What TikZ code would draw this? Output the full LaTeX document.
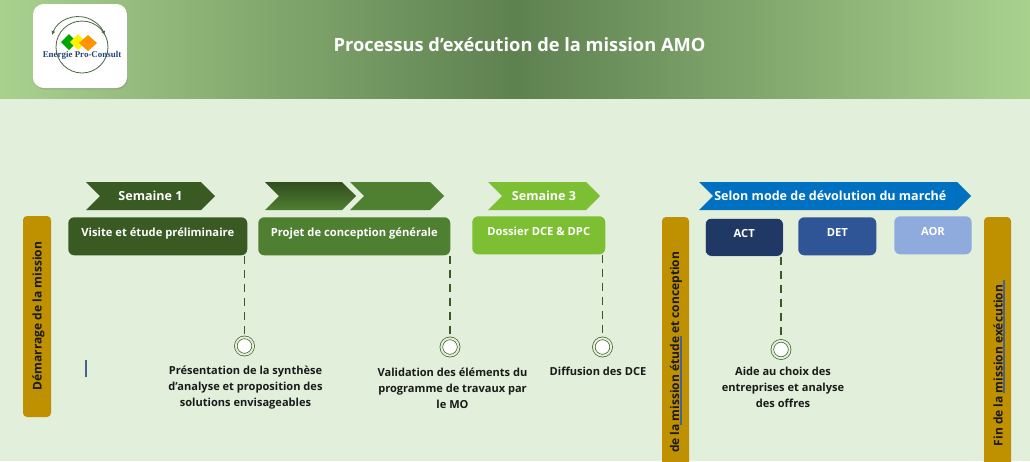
\documentclass[tikz,border=0pt]{standalone}
\usepackage{fontspec}
\setmainfont{Open Sans}
\newfontfamily\logofont{Liberation Serif}
\usetikzlibrary{arrows.meta,shapes.symbols,shadows}
\definecolor{fond}{HTML}{E2EFDA}
\definecolor{vertc}{HTML}{A9D18E}
\definecolor{vertm}{HTML}{5E8150}
\definecolor{verts}{HTML}{3A5A24}
\definecolor{vertp}{HTML}{4F7F31}
\definecolor{vertl}{HTML}{7CBF33}
\definecolor{bleuf}{HTML}{0070C0}
\definecolor{bleua}{HTML}{1F3864}
\definecolor{bleub}{HTML}{2F5597}
\definecolor{bleuc}{HTML}{8FAADC}
\definecolor{ocre}{HTML}{BF9000}
\definecolor{encre}{HTML}{1A1A1A}
\tikzset{
  fleche/.style={signal,signal from=west,signal to=east,signal pointer angle=90,
    minimum height=21pt,inner sep=0pt,text=white,font=\bfseries\fontsize{9.4}{12}\selectfont},
  boite/.style={rounded corners=4.5pt,anchor=north west,inner xsep=0pt,inner ysep=0pt,
    text=white,text height=14.2pt,text depth=14.3pt,align=center,
    font=\bfseries\fontsize{8.4}{12}\selectfont},
  barre/.style={fill=ocre,rounded corners=3pt},
  verticale/.style={rotate=90,text=encre,font=\bfseries\fontsize{9}{12}\selectfont},
  rond/.style={circle,draw=verts,fill=white,double=fond,double distance=1.5pt,
    line width=0.5pt,minimum size=13pt,inner sep=0pt},
  tirets/.style={verts,line width=1pt,dash pattern=on 6pt off 4.5pt},
  legende/.style={text=encre,align=center,font=\bfseries\fontsize{8.3}{12}\selectfont},
  trait/.style={color=bleub!70!gray,line width=1pt},
}
\begin{document}
\begin{tikzpicture}[x=0.75pt,y=-0.75pt]
  \useasboundingbox (0,0) rectangle (1030,461);
  \clip (0,0) rectangle (1030,461);
  \fill[fond] (0,0) rectangle (1030,461);
  % bandeau du titre
  \shade[left color=vertc,right color=vertc,middle color=vertm] (0,0) rectangle (1030,98);
  \node[text=white,font=\bfseries\fontsize{13.7}{16}\selectfont] (titre) at (519.5,44.5)
    {Processus d’exécution de la mission AMO};
  % logo
  \fill[white,rounded corners=8pt,drop shadow={shadow xshift=0.5pt,shadow yshift=-1pt,opacity=0.4}]
    (33,4) rectangle (127,88);
  \draw[vertm!80!black,line width=0.6pt,{Latex[length=3pt,width=3pt]}-{Latex[length=3pt,width=3pt]}]
    (52,35) arc (200:340:28);
  \draw[vertm!80!black,line width=0.6pt] (82,47) circle (26);
  \fill[green!65!black] (69,34) -- (77,42) -- (69,50) -- (61,42) -- cycle;
  \fill[yellow] (78,34) -- (86,42) -- (78,50) -- (70,42) -- cycle;
  \fill[orange!85!yellow] (88,35) -- (97,43) -- (88,51) -- (79,43) -- cycle;
  \node[text=bleub!80!black,font=\logofont\bfseries\fontsize{6.7}{8}\selectfont] (logo) at (82,55)
    {Energie Pro-Consult};
  % barres verticales
  \fill[barre] (23,216) rectangle (51,417);
  \fill[barre] (662,217) rectangle (689,480);
  \fill[barre] (984,217) rectangle (1011,480);
  \node[verticale] (demarrage) at (38.5,316) {Démarrage de la mission};
  \node[verticale,anchor=east] (etude) at (676,247) {de la mission étude et conception};
  \node[verticale,anchor=east] (execution) at (998,280) {Fin de la mission exécution};
  \draw[trait] (681,336) -- (681,425);
  \draw[trait] (1004,280) -- (1004,393);
  \draw[trait] (86,360) -- (86,377);
  % fleches du haut
  \node[fleche,fill=verts,minimum width=96.75pt] (sem1) at (150.5,196) {Semaine 1};
  \node[fleche,top color=verts!85!black,bottom color=vertp,minimum width=68.25pt] (sem2a) at (310.5,196) {};
  \node[fleche,fill=vertp,minimum width=70.5pt] (sem2b) at (397,196) {};
  \node[fleche,fill=vertl,minimum width=84pt] (sem3) at (544,196) {Semaine 3};
  \node[fleche,fill=bleuf,minimum width=204pt] (mode) at (835,196) {\hspace{-7pt}Selon mode de dévolution du marché};
  % boites
  \node[boite,fill=verts,minimum width=134.25pt] (visite) at (68,217) {Visite et étude préliminaire};
  \node[boite,fill=vertp,minimum width=144pt] (projet) at (258,217) {Projet de conception générale};
  \node[boite,fill=vertl,minimum width=99.75pt] (dossier) at (472,216) {Dossier DCE \& DPC};
  \node[boite,fill=bleua,draw=white!70!fond,line width=0.4pt,minimum width=58.5pt] (act) at (705,218) {ACT};
  \node[boite,fill=bleub,minimum width=58.5pt] (det) at (798,217) {DET};
  \node[boite,fill=bleuc,minimum width=58pt] (aor) at (894,216) {AOR};
  % jalons
  \node[rond] (rond1) at (244.5,346) {};
  \node[rond] (rond2) at (450,347) {};
  \node[rond] (rond3) at (602.5,347) {};
  \node[rond] (rond4) at (781,349.5) {};
  \draw[tirets] (rond1 |- visite.south) -- (rond1);
  \draw[tirets] (rond2 |- projet.south) -- (rond2);
  \draw[tirets] (rond3 |- dossier.south) -- (rond3);
  \draw[tirets] (rond4 |- act.south) -- (rond4);
  \node[legende] (texte1) at (245.5,388) {Présentation de la synthèse\\d’analyse et proposition des\\solutions envisageables};
  \node[legende] (texte2) at (452.5,388) {Validation des éléments du\\programme de travaux par\\le MO};
  \node[legende] (texte3) at (598,371.5) {Diffusion des DCE};
  \node[legende] (texte4) at (783,387.5) {Aide au choix des\\entreprises et analyse\\des offres};
\end{tikzpicture}
\end{document}
